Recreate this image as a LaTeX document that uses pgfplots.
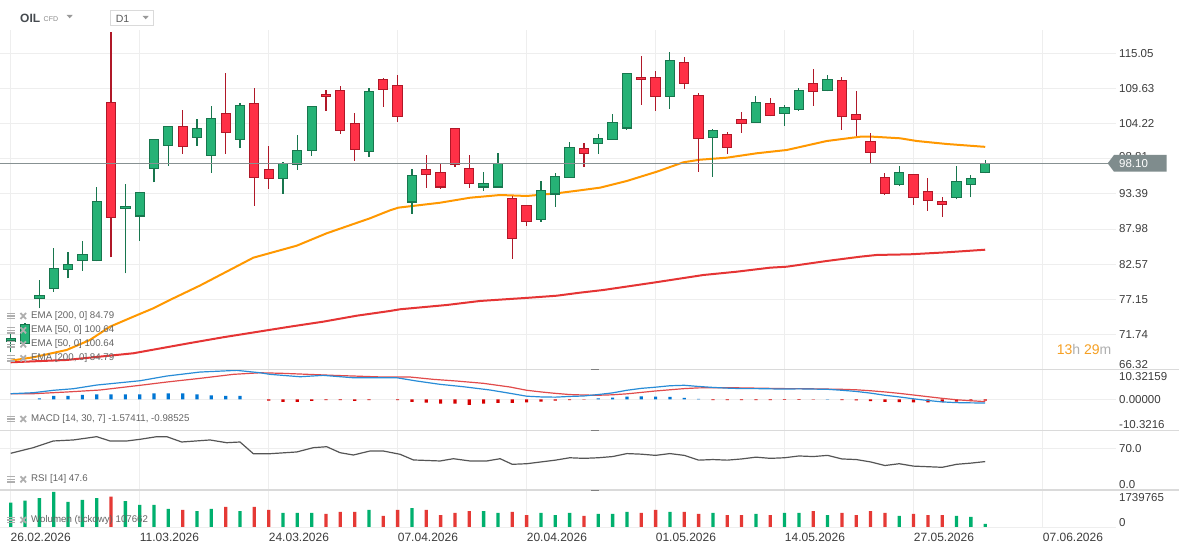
\documentclass[border=0pt]{standalone}
\usepackage{fontspec}
\setmainfont{Liberation Sans}
\usepackage{pgfplots}
\usepackage{pgfplotstable}
\pgfplotsset{compat=1.18}

\definecolor{upf}{RGB}{38,178,118}
\definecolor{upb}{RGB}{24,118,78}
\definecolor{dnf}{RGB}{255,48,70}
\definecolor{dnb}{RGB}{176,24,40}
\definecolor{emao}{RGB}{255,152,0}
\definecolor{emar}{RGB}{229,52,52}
\definecolor{gridc}{RGB}{238,238,238}
\definecolor{sepc}{RGB}{218,218,218}
\definecolor{labc}{RGB}{60,60,60}
\definecolor{legc}{RGB}{100,100,100}
\definecolor{iconc}{RGB}{175,175,175}
\definecolor{pricec}{RGB}{135,145,146}
\definecolor{tagc}{RGB}{127,140,141}
\definecolor{macdb}{RGB}{40,140,215}
\definecolor{macdr}{RGB}{225,75,75}
\definecolor{histb}{RGB}{0,118,212}
\definecolor{histr}{RGB}{214,0,0}
\definecolor{rsic}{RGB}{85,85,85}
\definecolor{volg}{RGB}{0,176,110}
\definecolor{volr}{RGB}{229,57,53}
\definecolor{timeo}{RGB}{246,160,35}
\definecolor{timeg}{RGB}{175,175,175}

\pgfplotstableread{
i o h l c
0 70.77 72.16 69.08 71.13
1 70.36 73.45 70.21 73.19
2 77.30 80.12 75.76 77.76
3 78.84 85.11 78.33 81.92
4 81.77 84.39 80.38 82.54
5 83.15 86.13 81.51 84.08
6 83.15 94.45 83.00 92.24
8 91.17 94.86 81.15 91.47
9 90.04 93.70 86.18 93.63
10 97.33 101.85 95.17 101.80
11 100.87 103.85 97.74 103.80
13 102.11 104.93 100.82 103.44
14 99.33 106.94 96.66 105.03
16 101.80 107.40 100.51 107.04
19 95.79 98.31 93.43 98.05
20 97.95 102.47 97.12 100.10
21 100.10 106.95 99.28 106.88
25 99.95 109.71 99.13 109.19
28 92.19 97.23 90.34 96.25
33 94.50 96.76 93.89 95.02
34 94.50 99.69 94.35 98.05
37 89.47 95.38 89.11 93.94
38 93.43 96.61 91.42 96.10
39 95.94 101.39 95.90 100.57
41 101.18 102.62 99.59 101.95
42 101.80 105.70 101.75 104.42
43 103.60 112.02 103.29 111.97
46 108.42 115.26 106.52 113.97
49 102.11 103.39 96.05 103.19
52 104.42 108.48 104.38 107.50
54 105.80 107.04 103.90 106.73
55 106.42 109.66 106.22 109.35
57 109.35 111.66 109.19 111.04
62 94.86 97.64 94.66 96.71
66 92.86 97.64 92.55 95.33
67 94.86 96.25 92.86 95.79
68 96.71 98.56 96.56 98.10
}\upt

\pgfplotstableread{
i o h l c
7 107.50 118.39 83.62 89.78
12 103.80 106.27 99.59 100.72
15 105.80 112.02 99.59 102.88
17 107.35 109.71 91.58 95.94
18 97.18 100.77 94.20 95.79
22 108.73 109.35 106.22 108.42
23 109.35 110.02 102.67 103.19
24 104.26 105.80 98.51 100.26
26 111.04 111.25 106.83 109.50
27 110.12 111.71 104.52 105.34
29 97.18 99.38 94.35 96.41
30 96.71 98.00 94.20 94.50
31 103.49 103.55 97.59 97.95
32 97.33 99.38 94.35 95.02
35 92.71 93.07 83.41 86.54
36 91.63 91.70 88.50 89.16
40 100.41 101.23 97.59 99.64
44 111.35 114.64 107.14 111.04
45 111.35 112.33 106.22 108.42
47 113.66 114.49 109.61 110.43
48 108.58 108.89 96.82 101.95
50 102.57 102.93 99.59 100.57
51 104.88 106.01 102.83 104.26
53 107.35 108.12 105.34 105.50
56 110.43 112.64 106.99 109.19
58 110.89 111.35 103.29 105.34
59 105.65 109.19 102.36 104.88
60 101.49 102.72 98.20 99.80
61 95.94 96.56 93.27 93.48
63 96.41 96.50 91.73 92.86
64 93.79 95.79 90.81 92.40
65 92.24 92.86 89.88 91.78
}\dnt

\pgfplotstableread{
i v
0 1208000
1 1307000
2 1441000
3 1739765
4 1243000
5 1342000
6 1441000
8 1292000
9 1094000
10 1094000
11 895000
13 795000
14 895000
16 795000
19 696000
20 696000
21 696000
25 845000
28 944000
33 795000
34 696000
37 696000
38 596000
39 696000
41 646000
42 646000
43 746000
46 746000
49 696000
52 646000
54 696000
55 696000
57 596000
62 547000
66 547000
67 497000
68 149000
}\volup

\pgfplotstableread{
i v
7 1506000
12 845000
15 994000
17 994000
18 845000
22 646000
23 746000
24 746000
26 547000
27 845000
29 845000
30 596000
31 696000
32 795000
35 746000
36 596000
40 547000
44 696000
45 845000
47 746000
48 646000
50 596000
51 596000
53 596000
56 795000
58 696000
59 596000
60 795000
61 696000
63 646000
64 596000
65 596000
}\voldn

\pgfplotstableread{
i v
2 0.42
3 1.40
4 1.40
5 1.82
6 2.10
7 2.10
8 2.10
9 2.10
10 2.53
11 2.53
12 2.53
13 2.10
14 1.68
15 1.40
16 1.40
41 0.40
42 0.70
43 1.10
44 1.20
45 1.10
46 1.00
47 0.60
48 0.15
57 0.10
}\histpos

\pgfplotstableread{
i v
18 -0.60
19 -1.12
20 -1.12
21 -0.70
22 -0.30
23 -0.30
24 -0.70
25 -0.30
27 -0.30
28 -1.12
29 -1.40
30 -1.82
31 -1.82
32 -2.38
33 -1.82
34 -1.54
35 -1.50
36 -1.30
37 -1.00
38 -0.60
39 -0.30
40 -0.10
49 -0.30
50 -0.30
51 -0.40
52 -0.30
53 -0.30
54 -0.20
55 -0.20
56 -0.10
58 -0.30
59 -0.50
60 -0.80
61 -1.10
62 -1.20
63 -1.30
64 -1.30
65 -1.20
66 -1.00
67 -0.80
68 -0.60
}\histneg

\pgfplotsset{panel/.style={
  scale only axis, width=1116pt,
  xmin=-0.747, xmax=77.13,
  axis line style={draw=none},
  major tick length=0pt,
  scaled x ticks=false, scaled y ticks=false,
  xtick={0,9,...,72}, xticklabel=\empty, yticklabel=\empty,
  xmajorgrids, ymajorgrids,
  grid style={draw=gridc, line width=0.9pt},
  clip=true}}

\newcommand\lab{\fontsize{11.5}{13}\selectfont}
\newcommand\legf{\fontsize{9.7}{11}\selectfont}
\newcommand\datef{\fontsize{12}{14}\selectfont}
\newcommand\legicon[1]{%
  \draw[iconc, line width=1.3pt] (7,#1+2.8) -- (15,#1+2.8) (7,#1) -- (15,#1) (7,#1-2.8) -- (15,#1-2.8);
  \draw[iconc, line width=1.8pt] (20.5,#1-3) -- (26,#1+3) (20.5,#1+3) -- (26,#1-3);}

\begin{document}
\begin{tikzpicture}[x=1pt,y=1pt]
\useasboundingbox (0,0) rectangle (1179,553);
\fill[white] (0,0) rectangle (1179,553);

% ---------- main price panel ----------
\begin{axis}[panel, at={(0pt,183.7pt)}, anchor=south west, height=339.3pt,
  ymin=66.36, ymax=118.65,
  ytick={71.74,77.15,82.57,87.98,93.39,98.81,104.22,109.63,115.05}]
\addplot[emar, line width=2pt] coordinates {(0,67.44) (3.91,67.80) (8.56,68.83) (12.5,70.4) (14.84,71.3) (19.49,72.93) (21.81,73.70) (24.15,74.62) (26.47,75.35) (27.17,75.61) (30.43,76.27) (32.75,76.89) (36.24,77.40) (38.1,77.70) (39.73,78.17) (41.35,78.58) (44.84,79.71) (48.33,80.89) (50.66,81.40) (52.99,82.02) (54.15,82.17) (56.94,83.05) (59.27,83.71) (60.43,83.98) (62.76,84.08) (65.32,84.39) (68,84.79)};
\addplot[emao, line width=2pt] coordinates {(0,67.69) (1.58,68.21) (3.91,69.34) (5.53,70.88) (6.93,72.93) (8.56,74.47) (9.95,75.76) (11.35,77.30) (13.21,79.27) (16.93,83.56) (19.96,85.41) (22.05,87.32) (25.07,89.63) (26.47,90.86) (27.05,91.27) (29.96,92.03) (32.05,92.80) (34.15,93.22) (36.01,93.07) (38.1,93.48) (39.73,93.94) (41.12,94.35) (42.99,95.38) (45.08,96.81) (46.94,98.26) (48.1,98.66) (49.97,98.97) (52.06,99.65) (54.16,100.16) (56.94,101.54) (59.27,102.20) (60.2,102.20) (62.06,101.96) (63.23,101.54) (65.32,101.08) (68,100.64)};
% wicks
\addplot[draw=none, mark=none, forget plot, error bars/.cd, y dir=plus, y explicit, error mark=none,
  error bar style={draw=upb, line width=1.1pt}]
  table[x=i, y=l, y error expr=\thisrow{h}-\thisrow{l}] {\upt};
\addplot[draw=none, mark=none, forget plot, error bars/.cd, y dir=plus, y explicit, error mark=none,
  error bar style={draw=dnb, line width=1.1pt}]
  table[x=i, y=l, y error expr=\thisrow{h}-\thisrow{l}] {\dnt};
% body borders
\addplot[draw=none, mark=none, forget plot, error bars/.cd, y dir=both, y explicit, error mark=none,
  error bar style={draw=upb, line width=10.3pt}]
  table[x=i, y expr={min(\thisrow{o},\thisrow{c})}, y error plus expr={abs(\thisrow{c}-\thisrow{o})+0.077}, y error minus expr={0.077}] {\upt};
\addplot[draw=none, mark=none, forget plot, error bars/.cd, y dir=both, y explicit, error mark=none,
  error bar style={draw=dnb, line width=10.3pt}]
  table[x=i, y expr={min(\thisrow{o},\thisrow{c})}, y error plus expr={abs(\thisrow{c}-\thisrow{o})+0.077}, y error minus expr={0.077}] {\dnt};
% body fills
\addplot[draw=none, mark=none, forget plot, error bars/.cd, y dir=plus, y explicit, error mark=none,
  error bar style={draw=upf, line width=8.3pt}]
  table[x=i, y expr={min(\thisrow{o},\thisrow{c})+0.077}, y error expr={abs(\thisrow{c}-\thisrow{o})-0.154}] {\upt};
\addplot[draw=none, mark=none, forget plot, error bars/.cd, y dir=plus, y explicit, error mark=none,
  error bar style={draw=dnf, line width=8.3pt}]
  table[x=i, y expr={min(\thisrow{o},\thisrow{c})+0.077}, y error expr={abs(\thisrow{c}-\thisrow{o})-0.154}] {\dnt};
% last price line
\addplot[pricec, line width=1.1pt] coordinates {(-0.75,98.10) (76.55,98.10)};
\end{axis}

% ---------- MACD panel ----------
\begin{axis}[panel, at={(0pt,122.7pt)}, anchor=south west, height=61pt,
  ymin=-13.05, ymax=12.63, ytick={0}]
\addplot[ybar, bar width=3.2pt, bar shift=0pt, fill=histb, draw=none] table[x=i, y=v] {\histpos};
\addplot[ybar, bar width=3.2pt, bar shift=0pt, fill=histr, draw=none] table[x=i, y=v] {\histneg};
\addplot[macdr, line width=1.2pt] coordinates {(0,2.35) (1.58,2.35) (3.91,3.07) (6.23,3.91) (9.02,5.88) (10.89,7.27) (13.21,8.82) (15.53,10.5) (17.4,11.17) (19.02,10.92) (22.51,10.08) (26.0,9.37) (27.87,9.37) (29.49,8.4) (31.12,7.69) (32.98,6.72) (34.84,5.17) (36,3.8) (37,3.1) (38,2.5) (39,2.0) (40,1.8) (41,1.7) (42,1.9) (43,2.3) (44,2.9) (45,3.5) (46,4.0) (47,4.5) (48,4.8) (49,4.9) (50,4.9) (51,4.8) (52,4.7) (53,4.6) (54,4.5) (55,4.5) (56,4.4) (57,4.3) (58,4.2) (59,4.0) (60,3.6) (61,3.1) (62,2.5) (63,1.8) (64,1.1) (65,0.4) (66,-0.2) (67,-0.6) (68,-0.985)};
\addplot[macdb, line width=1.2pt] coordinates {(0,2.35) (1.58,2.77) (2.97,3.78) (4.37,4.45) (6.0,6.0) (6.93,6.55) (9.02,7.81) (10.89,9.79) (13.21,11.47) (15.77,12.18) (17.4,11.17) (18.1,10.5) (20.19,9.49) (21.8,10.08) (23.9,9.07) (26.94,9.07) (28.33,7.69) (29.96,6.3) (31.59,5.29) (33.45,3.91) (34.84,2.52) (36,1.3) (37,1.0) (38,0.9) (39,1.2) (40,1.4) (41,2.0) (42,2.7) (43,3.8) (44,4.6) (45,5.1) (46,5.7) (47,5.9) (48,5.4) (49,5.0) (50,4.7) (51,4.5) (52,4.5) (53,4.4) (54,4.3) (55,4.4) (56,4.3) (57,4.2) (58,3.8) (59,3.3) (60,2.6) (61,1.7) (62,1.0) (63,0.2) (64,-0.5) (65,-1.1) (66,-1.4) (67,-1.5) (68,-1.574)};
\end{axis}

% ---------- RSI panel ----------
\begin{axis}[panel, at={(0pt,63pt)}, anchor=south west, height=59.7pt,
  ymin=0, ymax=100, ytick={70}]
\addplot[rsic, line width=1.2pt] coordinates {(0,61.5) (1.58,70.9) (2.97,82.1) (4.37,83.8) (6.0,89.3) (6.93,82.1) (8.1,82.1) (9.02,84.9) (10.19,89.3) (10.89,89.3) (11.93,80.4) (13.91,83.8) (15.07,79.2) (16.0,80.4) (16.93,60.8) (18.1,60.8) (19.96,63.7) (21.12,70.9) (22.05,72.5) (22.98,62.5) (23.91,58.6) (25.07,65.3) (26.0,65.3) (27.17,59.8) (28.1,50.3) (29.96,48.6) (30.89,52.4) (32.05,48.6) (33.22,48.6) (34.15,52.4) (35,43.0) (36,44) (37,47) (38,50) (39,54) (40,53) (41,54) (42,56) (43,61) (44,60) (45,58) (46,61) (47,58) (48,50) (49,51) (50,50) (51,52) (52,55) (53,53) (54,54) (55,57) (56,56) (57,58) (58,52) (59,51) (60,47) (61,41) (62,44) (63,40) (64,39) (65,38) (66,43) (67,45) (68,47.6)};
\end{axis}

% ---------- volume panel ----------
\begin{axis}[panel, at={(0pt,26pt)}, anchor=south west, height=37pt,
  ymin=0, ymax=1839159, ytick={0}]
\addplot[ybar, bar width=3.3pt, bar shift=0pt, fill=volg, draw=none] table[x=i, y=v] {\volup};
\addplot[ybar, bar width=3.3pt, bar shift=0pt, fill=volr, draw=none] table[x=i, y=v] {\voldn};
\end{axis}

% ---------- separators ----------
\draw[sepc, line width=1.4pt] (0,183.7) -- (1179,183.7);
\draw[sepc, line width=1.4pt] (0,122.7) -- (1179,122.7);
\draw[sepc, line width=1.4pt] (0,63) -- (1179,63);
\foreach \yy in {183.7,122.7,63} \draw[gray, line width=1pt] (591,\yy-0.5) -- (599,\yy-0.5);

% ---------- right labels ----------
\begin{scope}[every node/.style={anchor=west, inner sep=0pt, font=\lab, text=labc}]
\node at (1119,499.7) {115.05};
\node at (1119,464.5) {109.63};
\node at (1119,429.4) {104.22};
\node at (1119,396.5) {98.81};
\node at (1119,359.1) {93.39};
\node at (1119,324.0) {87.98};
\node at (1119,288.9) {82.57};
\node at (1119,253.7) {77.15};
\node at (1119,218.6) {71.74};
\node at (1119,188.7) {66.32};
\node at (1119,176.3) {10.32159};
\node at (1119,153.0) {0.00000};
\node at (1119,128.7) {-10.3216};
\node at (1119,104.7) {70.0};
\node at (1119,68.0) {0.0};
\node at (1119,55.7) {1739765};
\node at (1119,30.7) {0};
\end{scope}

% price tag
\fill[tagc] (1107.7,389.7) -- (1114,398) -- (1166.7,398) -- (1166.7,381.3) -- (1114,381.3) -- cycle;
\node[anchor=west, inner sep=0pt, font=\lab, text=white] at (1119,389.7) {98.10};

% countdown
\node[anchor=west, inner sep=0pt, font=\fontsize{14}{16}\selectfont] at (1056.7,203.7)
  {\textcolor{timeo}{13}\textcolor{timeg}{h} \textcolor{timeo}{29}\textcolor{timeg}{m}};

% ---------- date labels ----------
\begin{scope}[every node/.style={anchor=west, inner sep=0pt, font=\datef, text=labc}]
\node at (10.5,16) {26.02.2026};
\node at (139.7,16) {11.03.2026};
\node at (268.7,16) {24.03.2026};
\node at (397.7,16) {07.04.2026};
\node at (526.7,16) {20.04.2026};
\node at (655.7,16) {01.05.2026};
\node at (784.7,16) {14.05.2026};
\node at (913.7,16) {27.05.2026};
\node at (1042.7,16) {07.06.2026};
\end{scope}

% ---------- indicator legends ----------
\legicon{237}
\legicon{222.7}
\legicon{208.7}
\legicon{194.7}
\legicon{134}
\legicon{73.7}
\legicon{33}
\begin{scope}[every node/.style={anchor=west, inner sep=0pt, font=\legf, text=legc}]
\node at (31,237) {EMA [200, 0] 84.79};
\node at (31,222.7) {EMA [50, 0] 100.64};
\node at (31,208.7) {EMA [50, 0] 100.64};
\node at (31,194.7) {EMA [200, 0] 84.79};
\node at (31,134) {MACD [14, 30, 7] -1.57411, -0.98525};
\node at (31,73.7) {RSI [14] 47.6};
\node at (31,33) {Wolumen (tickowy) 107662};
\end{scope}

% ---------- header ----------
\node[anchor=west, inner sep=0pt, font=\fontsize{12}{14}\selectfont\bfseries, text={rgb,255:red,70;green,75;blue,80}] at (20,534.3) {OIL};
\node[anchor=west, inner sep=0pt, font=\fontsize{7}{8}\selectfont, text={rgb,255:red,140;green,140;blue,140}] at (43.5,533.8) {CFD};
\fill[gray!80] (66.7,538) -- (72.7,538) -- (69.7,534.7) -- cycle;
\draw[sepc, line width=1pt, fill=white] (110.3,527.7) rectangle (153.3,542.7);
\node[anchor=west, inner sep=0pt, font=\fontsize{10.5}{12}\selectfont, text={rgb,255:red,90;green,90;blue,90}] at (115.7,534.2) {D1};
\fill[gray!80] (142.7,537) -- (148.7,537) -- (145.7,533.7) -- cycle;
\end{tikzpicture}
\end{document}
